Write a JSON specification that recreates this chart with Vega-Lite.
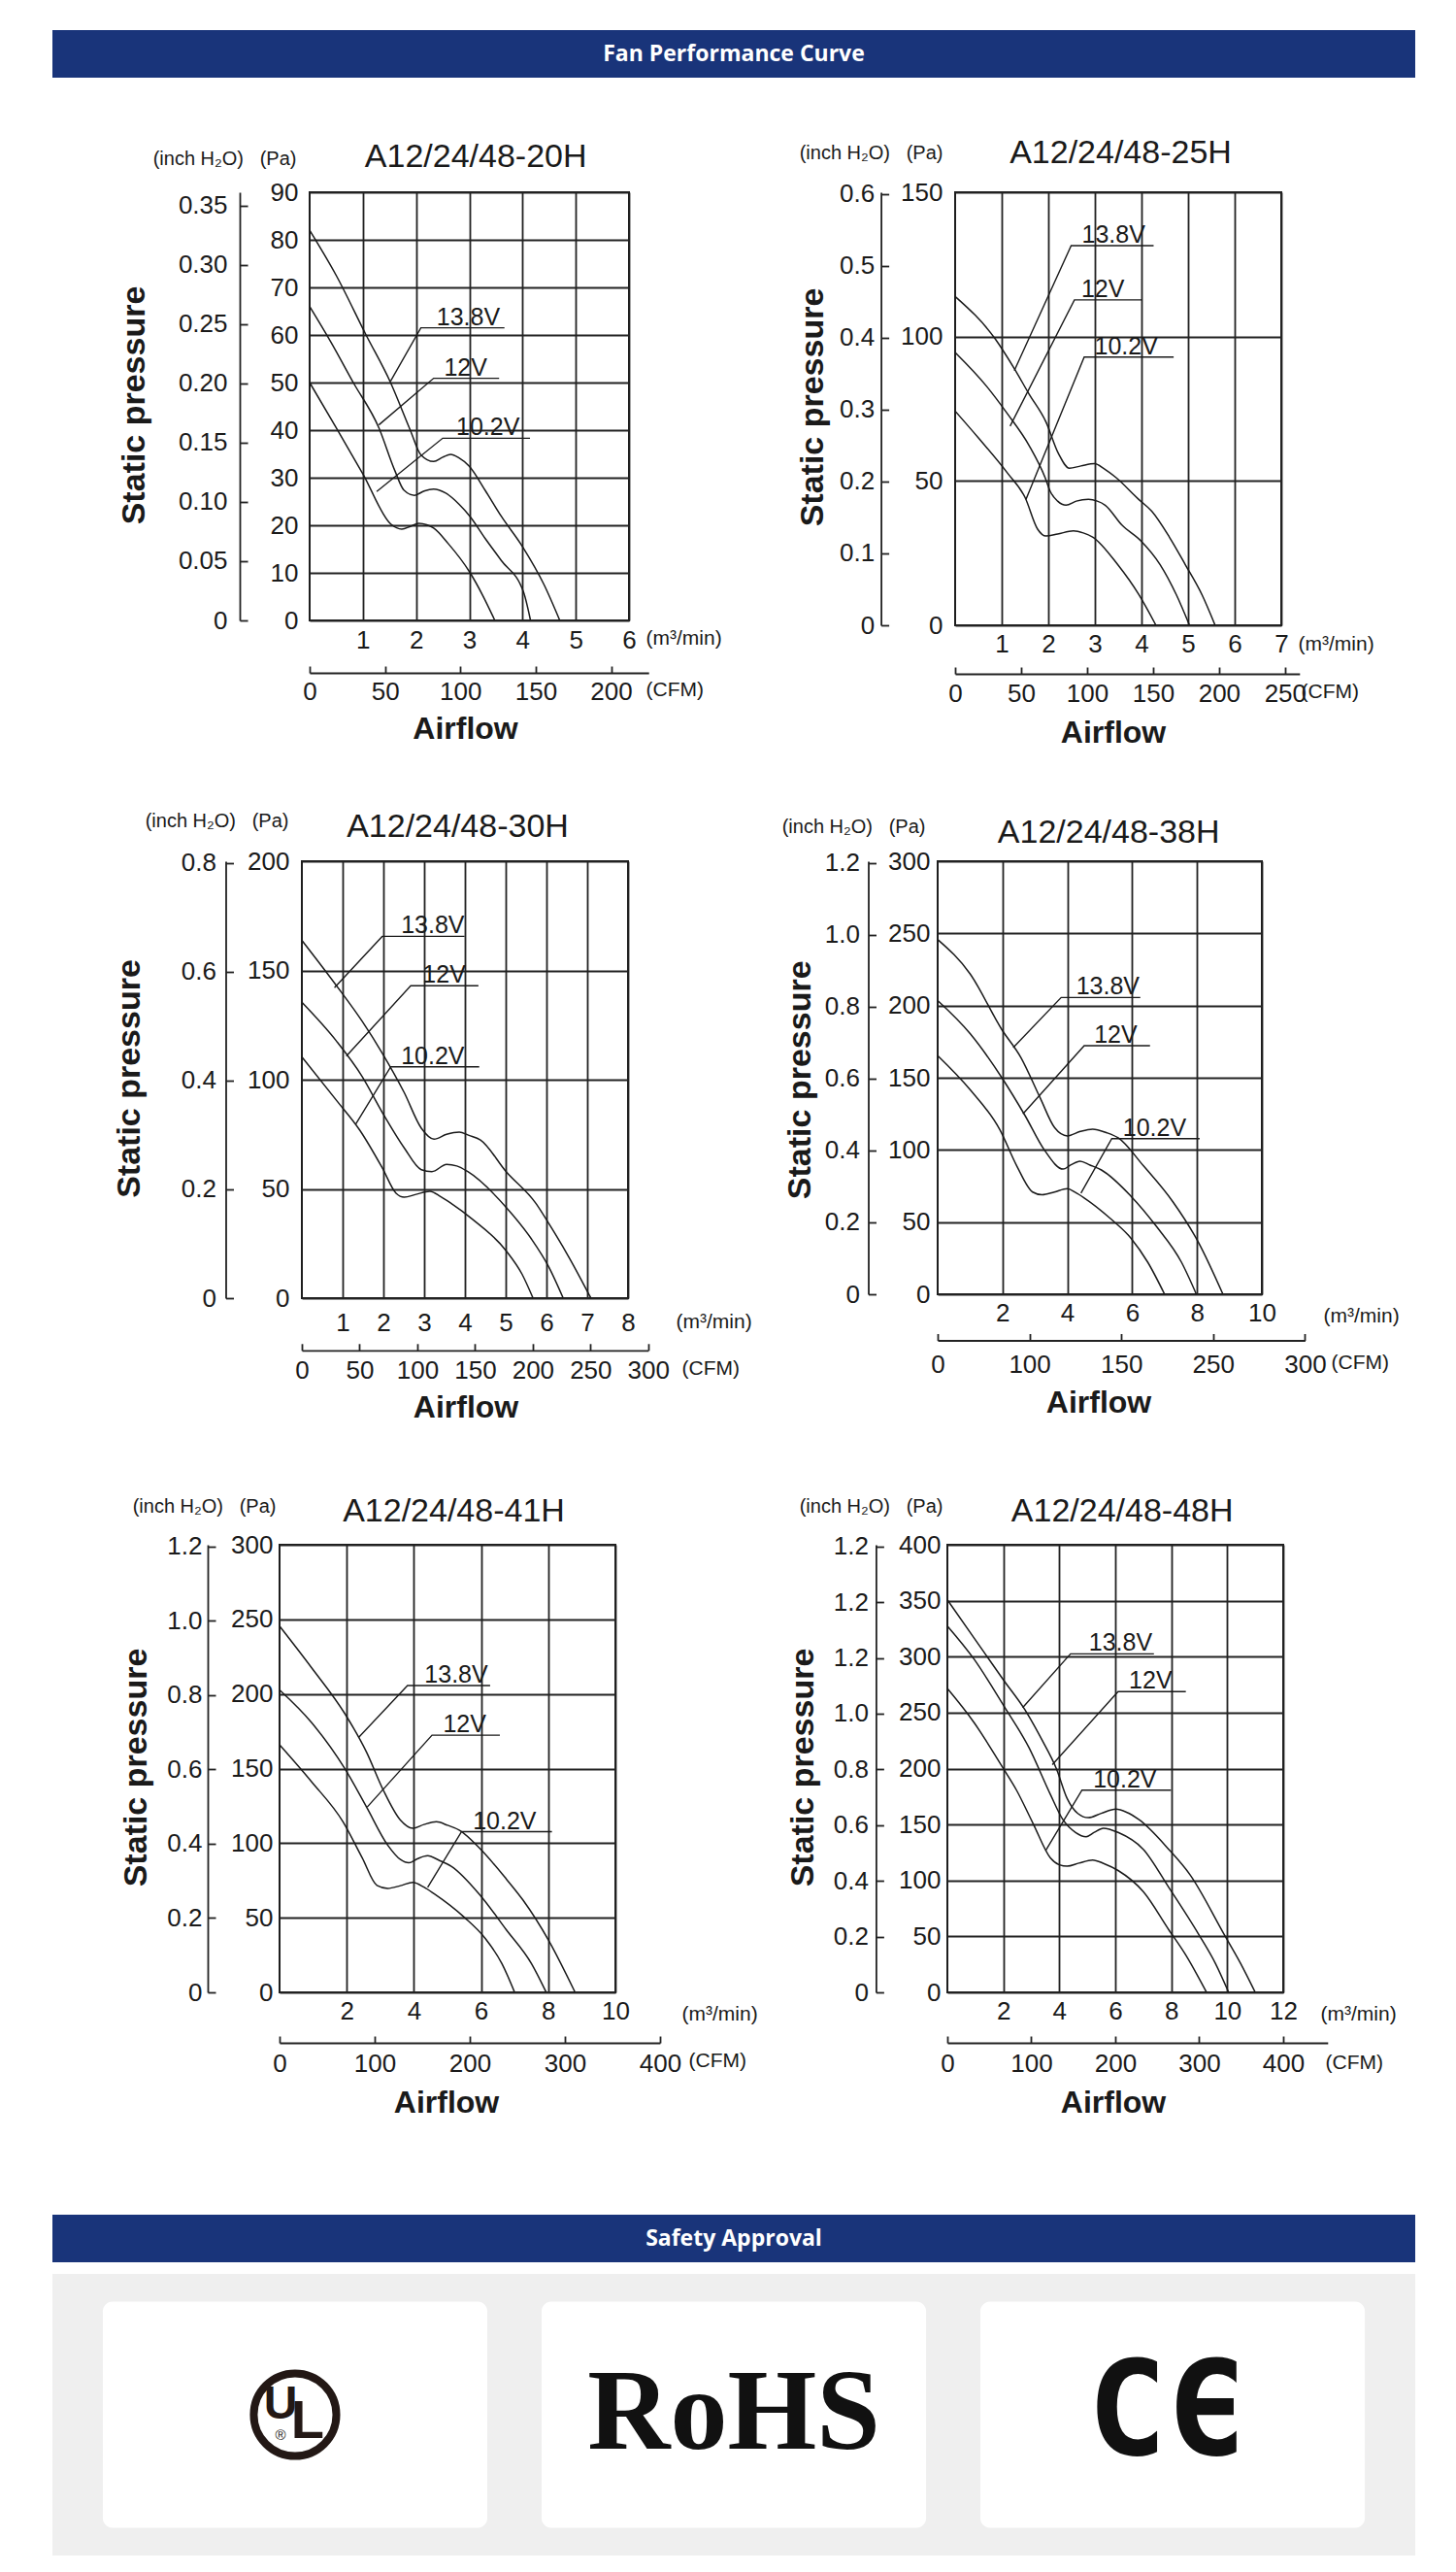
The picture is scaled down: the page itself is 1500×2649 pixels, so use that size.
{
"$schema": "https://vega.github.io/schema/vega-lite/v6.json",
"usermeta": {"embedOptions": {"actions": false}},
"background": "white",
"padding": {"left": 51, "top": 31, "right": 45, "bottom": 18},
"config": {
  "view": {"stroke": null},
  "concat": {"spacing": 0},
  "font": "Liberation Sans",
  "axis": {"labelFont": "Liberation Sans", "titleFont": "Liberation Sans", "labelColor": "#1a1a1a", "titleColor": "#1a1a1a", "labelFontSize": 26, "labelFlush": false, "labelOverlap": false, "gridColor": "#222222", "gridWidth": 1.8, "gridOpacity": 1, "domainColor": "#222222", "tickColor": "#222222", "titleFontWeight": "normal"}
},
"datasets": {
  "c20": [
    {"v":"13.8V","q":0,"p":82},{"v":"13.8V","q":0.5,"p":72.5},{"v":"13.8V","q":1.06,"p":60},{"v":"13.8V","q":1.52,"p":50},{"v":"13.8V","q":1.89,"p":40},{"v":"13.8V","q":2.09,"p":34.8},{"v":"13.8V","q":2.33,"p":33.4},{"v":"13.8V","q":2.5,"p":34.3},{"v":"13.8V","q":2.65,"p":34.9},{"v":"13.8V","q":2.8,"p":34.2},{"v":"13.8V","q":3.0,"p":32.4},{"v":"13.8V","q":3.3,"p":27.3},{"v":"13.8V","q":3.6,"p":21.9},{"v":"13.8V","q":4.0,"p":15.5},{"v":"13.8V","q":4.4,"p":7.6},{"v":"13.8V","q":4.7,"p":0},
    {"v":"12V","q":0,"p":66},{"v":"12V","q":0.4,"p":58.5},{"v":"12V","q":0.82,"p":50},{"v":"12V","q":1.3,"p":40.5},{"v":"12V","q":1.6,"p":31.5},{"v":"12V","q":1.77,"p":27.4},{"v":"12V","q":1.97,"p":26.3},{"v":"12V","q":2.15,"p":27.2},{"v":"12V","q":2.33,"p":27.6},{"v":"12V","q":2.55,"p":26.8},{"v":"12V","q":2.81,"p":24.4},{"v":"12V","q":3.01,"p":21.9},{"v":"12V","q":3.3,"p":17.2},{"v":"12V","q":3.6,"p":12.6},{"v":"12V","q":4.02,"p":5.9},{"v":"12V","q":4.15,"p":0},
    {"v":"10.2V","q":0,"p":50},{"v":"10.2V","q":0.5,"p":40.5},{"v":"10.2V","q":1.0,"p":30.8},{"v":"10.2V","q":1.53,"p":20.2},{"v":"10.2V","q":1.73,"p":19.2},{"v":"10.2V","q":1.9,"p":19.8},{"v":"10.2V","q":2.05,"p":20.4},{"v":"10.2V","q":2.2,"p":20.1},{"v":"10.2V","q":2.33,"p":19.4},{"v":"10.2V","q":2.6,"p":16.2},{"v":"10.2V","q":3.01,"p":10.1},{"v":"10.2V","q":3.25,"p":5.3},{"v":"10.2V","q":3.48,"p":0}
  ],
  "l20": [
    {"lbl":"13.8V","q":1.52,"p":50.3},{"lbl":"13.8V","q":2.09,"p":61.5},{"lbl":"13.8V","q":3.66,"p":61.5},
    {"lbl":"12V","q":1.3,"p":41.1},{"lbl":"12V","q":2.33,"p":50.9},{"lbl":"12V","q":3.56,"p":50.9},
    {"lbl":"10.2V","q":1.26,"p":27.1},{"lbl":"10.2V","q":2.5,"p":38.3},{"lbl":"10.2V","q":4.14,"p":38.3}
  ],
  "t20": [{"lbl":"13.8V","q":2.98,"p":61.5},{"lbl":"12V","q":2.93,"p":50.9},{"lbl":"10.2V","q":3.35,"p":38.3}],
  "c25": [
    {"v":"13.8V","q":0,"p":113.9},{"v":"13.8V","q":0.86,"p":99.2},{"v":"13.8V","q":1.27,"p":88.9},{"v":"13.8V","q":1.59,"p":80},{"v":"13.8V","q":1.95,"p":70.4},{"v":"13.8V","q":2.22,"p":59.4},{"v":"13.8V","q":2.45,"p":54.4},{"v":"13.8V","q":2.7,"p":55.2},{"v":"13.8V","q":2.99,"p":56},{"v":"13.8V","q":3.2,"p":54.2},{"v":"13.8V","q":3.45,"p":51.2},{"v":"13.8V","q":3.94,"p":43.6},{"v":"13.8V","q":4.22,"p":39.5},{"v":"13.8V","q":4.6,"p":30.5},{"v":"13.8V","q":4.94,"p":21},{"v":"13.8V","q":5.3,"p":10.5},{"v":"13.8V","q":5.58,"p":0},
    {"v":"12V","q":0,"p":94.5},{"v":"12V","q":0.68,"p":82.7},{"v":"12V","q":1.13,"p":73.1},{"v":"12V","q":1.59,"p":62.2},{"v":"12V","q":1.93,"p":51.2},{"v":"12V","q":2.04,"p":46.4},{"v":"12V","q":2.2,"p":43},{"v":"12V","q":2.38,"p":41.6},{"v":"12V","q":2.6,"p":43},{"v":"12V","q":2.86,"p":43.6},{"v":"12V","q":3.05,"p":43},{"v":"12V","q":3.22,"p":41.6},{"v":"12V","q":3.58,"p":34.7},{"v":"12V","q":3.99,"p":29.2},{"v":"12V","q":4.4,"p":21},{"v":"12V","q":4.75,"p":10.5},{"v":"12V","q":5.03,"p":0},
    {"v":"10.2V","q":0,"p":74.2},{"v":"10.2V","q":0.5,"p":64.9},{"v":"10.2V","q":1.13,"p":52.6},{"v":"10.2V","q":1.5,"p":44.3},{"v":"10.2V","q":1.77,"p":33.3},{"v":"10.2V","q":1.95,"p":30.9},{"v":"10.2V","q":2.2,"p":31.6},{"v":"10.2V","q":2.54,"p":32.7},{"v":"10.2V","q":2.75,"p":32},{"v":"10.2V","q":2.95,"p":30.6},{"v":"10.2V","q":3.49,"p":21},{"v":"10.2V","q":3.94,"p":10.7},{"v":"10.2V","q":4.31,"p":0}
  ],
  "l25": [
    {"lbl":"13.8V","q":1.27,"p":88.2},{"lbl":"13.8V","q":2.49,"p":131.5},{"lbl":"13.8V","q":4.26,"p":131.5},
    {"lbl":"12V","q":1.18,"p":69},{"lbl":"12V","q":2.56,"p":112.7},{"lbl":"12V","q":4.02,"p":112.7},
    {"lbl":"10.2V","q":1.52,"p":43.6},{"lbl":"10.2V","q":2.77,"p":92.9},{"lbl":"10.2V","q":4.69,"p":92.9}
  ],
  "t25": [{"lbl":"13.8V","q":3.4,"p":131.5},{"lbl":"12V","q":3.17,"p":112.7},{"lbl":"10.2V","q":3.67,"p":92.9}],
  "c30": [
    {"v":"13.8V","q":0,"p":163.8},{"v":"13.8V","q":0.85,"p":143},{"v":"13.8V","q":1.48,"p":126.7},{"v":"13.8V","q":1.97,"p":112.2},{"v":"13.8V","q":2.51,"p":94.1},{"v":"13.8V","q":2.93,"p":77.8},{"v":"13.8V","q":3.24,"p":72.8},{"v":"13.8V","q":3.55,"p":75},{"v":"13.8V","q":3.86,"p":76},{"v":"13.8V","q":4.1,"p":74.5},{"v":"13.8V","q":4.38,"p":72.4},{"v":"13.8V","q":5.01,"p":57.9},{"v":"13.8V","q":5.74,"p":43.4},{"v":"13.8V","q":6.05,"p":34.4},{"v":"13.8V","q":6.57,"p":18.1},{"v":"13.8V","q":7.09,"p":0},
    {"v":"12V","q":0,"p":135.4},{"v":"12V","q":0.85,"p":117.6},{"v":"12V","q":1.48,"p":101.4},{"v":"12V","q":1.97,"p":85.1},{"v":"12V","q":2.51,"p":68.8},{"v":"12V","q":2.93,"p":58.8},{"v":"12V","q":3.19,"p":57.9},{"v":"12V","q":3.55,"p":61.2},{"v":"12V","q":3.8,"p":60.5},{"v":"12V","q":4.07,"p":57.9},{"v":"12V","q":5.01,"p":41.6},{"v":"12V","q":5.63,"p":27.1},{"v":"12V","q":6.05,"p":14.5},{"v":"12V","q":6.41,"p":0},
    {"v":"10.2V","q":0,"p":110.4},{"v":"10.2V","q":0.85,"p":90.5},{"v":"10.2V","q":1.42,"p":76.9},{"v":"10.2V","q":1.97,"p":59.7},{"v":"10.2V","q":2.31,"p":48},{"v":"10.2V","q":2.51,"p":46.2},{"v":"10.2V","q":2.8,"p":47.5},{"v":"10.2V","q":3.14,"p":48.9},{"v":"10.2V","q":3.4,"p":46.5},{"v":"10.2V","q":3.66,"p":43.4},{"v":"10.2V","q":4.18,"p":36.2},{"v":"10.2V","q":5.01,"p":21.7},{"v":"10.2V","q":5.4,"p":11},{"v":"10.2V","q":5.67,"p":0}
  ],
  "l30": [
    {"lbl":"13.8V","q":0.8,"p":142.1},{"lbl":"13.8V","q":1.97,"p":165.6},{"lbl":"13.8V","q":3.99,"p":165.6},
    {"lbl":"12V","q":1.09,"p":110.8},{"lbl":"12V","q":2.67,"p":143},{"lbl":"12V","q":4.33,"p":143},
    {"lbl":"10.2V","q":1.32,"p":79.6},{"lbl":"10.2V","q":2.18,"p":105.9},{"lbl":"10.2V","q":4.35,"p":105.9}
  ],
  "t30": [{"lbl":"13.8V","q":3.21,"p":165.6},{"lbl":"12V","q":3.49,"p":143},{"lbl":"10.2V","q":3.21,"p":105.9}],
  "c38": [
    {"v":"13.8V","q":0,"p":245.8},{"v":"13.8V","q":1.0,"p":222},{"v":"13.8V","q":1.98,"p":183.3},{"v":"13.8V","q":2.57,"p":163.9},{"v":"13.8V","q":3.16,"p":136.1},{"v":"13.8V","q":3.61,"p":115.3},{"v":"13.8V","q":4.0,"p":109.7},{"v":"13.8V","q":4.4,"p":112.8},{"v":"13.8V","q":4.78,"p":114.4},{"v":"13.8V","q":5.2,"p":112},{"v":"13.8V","q":5.57,"p":108.3},{"v":"13.8V","q":6.35,"p":88.9},{"v":"13.8V","q":7.26,"p":63.9},{"v":"13.8V","q":8.04,"p":36.1},{"v":"13.8V","q":8.8,"p":0},
    {"v":"12V","q":0,"p":203.5},{"v":"12V","q":1.0,"p":180.6},{"v":"12V","q":1.98,"p":150},{"v":"12V","q":2.7,"p":123.6},{"v":"12V","q":3.29,"p":100},{"v":"12V","q":3.87,"p":86.7},{"v":"12V","q":4.1,"p":89.5},{"v":"12V","q":4.39,"p":92.2},{"v":"12V","q":4.7,"p":89.5},{"v":"12V","q":5.05,"p":86.1},{"v":"12V","q":5.96,"p":68},{"v":"12V","q":6.74,"p":47.2},{"v":"12V","q":7.52,"p":22.2},{"v":"12V","q":7.98,"p":0},
    {"v":"10.2V","q":0,"p":165.3},{"v":"10.2V","q":1.0,"p":141.7},{"v":"10.2V","q":1.92,"p":113.9},{"v":"10.2V","q":2.44,"p":88.9},{"v":"10.2V","q":2.93,"p":70.8},{"v":"10.2V","q":3.22,"p":68.9},{"v":"10.2V","q":3.6,"p":70.8},{"v":"10.2V","q":4.0,"p":73.1},{"v":"10.2V","q":4.25,"p":70.5},{"v":"10.2V","q":4.52,"p":66.7},{"v":"10.2V","q":5.31,"p":52.8},{"v":"10.2V","q":5.96,"p":38.9},{"v":"10.2V","q":6.48,"p":22.2},{"v":"10.2V","q":7.0,"p":0}
  ],
  "l38": [
    {"lbl":"13.8V","q":2.33,"p":170.8},{"lbl":"13.8V","q":3.81,"p":205.6},{"lbl":"13.8V","q":6.25,"p":205.6},
    {"lbl":"12V","q":2.63,"p":125},{"lbl":"12V","q":4.52,"p":172.2},{"lbl":"12V","q":6.55,"p":172.2},
    {"lbl":"10.2V","q":4.42,"p":70},{"lbl":"10.2V","q":5.37,"p":107.8},{"lbl":"10.2V","q":8.08,"p":107.8}
  ],
  "t38": [{"lbl":"13.8V","q":5.25,"p":205.6},{"lbl":"12V","q":5.49,"p":172.2},{"lbl":"10.2V","q":6.69,"p":107.8}],
  "c41": [
    {"v":"13.8V","q":0,"p":245.5},{"v":"13.8V","q":0.95,"p":217.7},{"v":"13.8V","q":1.95,"p":186.6},{"v":"13.8V","q":2.59,"p":161},{"v":"13.8V","q":3.09,"p":135.5},{"v":"13.8V","q":3.59,"p":115.7},{"v":"13.8V","q":3.97,"p":110},{"v":"13.8V","q":4.3,"p":112.5},{"v":"13.8V","q":4.67,"p":114.3},{"v":"13.8V","q":5.0,"p":112},{"v":"13.8V","q":5.36,"p":108.6},{"v":"13.8V","q":5.99,"p":95.8},{"v":"13.8V","q":6.75,"p":76},{"v":"13.8V","q":7.25,"p":61.8},{"v":"13.8V","q":8.01,"p":34.9},{"v":"13.8V","q":8.8,"p":0},
    {"v":"12V","q":0,"p":202.7},{"v":"12V","q":0.95,"p":180.9},{"v":"12V","q":1.95,"p":149.7},{"v":"12V","q":2.59,"p":124.2},{"v":"12V","q":3.22,"p":98.7},{"v":"12V","q":3.6,"p":89},{"v":"12V","q":3.85,"p":86.8},{"v":"12V","q":4.1,"p":89.5},{"v":"12V","q":4.41,"p":91.6},{"v":"12V","q":4.75,"p":88.5},{"v":"12V","q":5.11,"p":84.5},{"v":"12V","q":5.99,"p":64.6},{"v":"12V","q":6.75,"p":42},{"v":"12V","q":7.5,"p":19.3},{"v":"12V","q":7.94,"p":0},
    {"v":"10.2V","q":0,"p":165.9},{"v":"10.2V","q":0.95,"p":141.2},{"v":"10.2V","q":1.89,"p":114.3},{"v":"10.2V","q":2.46,"p":90.2},{"v":"10.2V","q":2.9,"p":71.7},{"v":"10.2V","q":3.22,"p":69.7},{"v":"10.2V","q":3.6,"p":71.5},{"v":"10.2V","q":3.97,"p":73.7},{"v":"10.2V","q":4.3,"p":70.5},{"v":"10.2V","q":4.6,"p":66.1},{"v":"10.2V","q":5.49,"p":50.5},{"v":"10.2V","q":6.12,"p":36.3},{"v":"10.2V","q":6.62,"p":19.3},{"v":"10.2V","q":7.0,"p":0}
  ],
  "l41": [
    {"lbl":"13.8V","q":2.36,"p":171},{"lbl":"13.8V","q":3.81,"p":205.6},{"lbl":"13.8V","q":6.27,"p":205.6},
    {"lbl":"12V","q":2.61,"p":124.2},{"lbl":"12V","q":4.54,"p":172.4},{"lbl":"12V","q":6.56,"p":172.4},
    {"lbl":"10.2V","q":4.41,"p":70.3},{"lbl":"10.2V","q":5.42,"p":107.7},{"lbl":"10.2V","q":8.11,"p":107.7}
  ],
  "t41": [{"lbl":"13.8V","q":5.26,"p":205.6},{"lbl":"12V","q":5.51,"p":172.4},{"lbl":"10.2V","q":6.7,"p":107.7}],
  "c48": [
    {"v":"13.8V","q":0,"p":350.8},{"v":"13.8V","q":0.95,"p":316.8},{"v":"13.8V","q":2.01,"p":279},{"v":"13.8V","q":2.77,"p":252.6},{"v":"13.8V","q":3.37,"p":226.1},{"v":"13.8V","q":3.9,"p":199.6},{"v":"13.8V","q":4.28,"p":173.2},{"v":"13.8V","q":4.66,"p":159.9},{"v":"13.8V","q":5.04,"p":156.1},{"v":"13.8V","q":5.5,"p":160},{"v":"13.8V","q":6.02,"p":163.7},{"v":"13.8V","q":6.4,"p":161},{"v":"13.8V","q":6.85,"p":154.3},{"v":"13.8V","q":7.91,"p":127.8},{"v":"13.8V","q":8.67,"p":105.1},{"v":"13.8V","q":9.88,"p":52.2},{"v":"13.8V","q":10.48,"p":25.7},{"v":"13.8V","q":11.0,"p":0},
    {"v":"12V","q":0,"p":327.4},{"v":"12V","q":0.95,"p":297.9},{"v":"12V","q":2.01,"p":256.3},{"v":"12V","q":2.92,"p":218.5},{"v":"12V","q":3.68,"p":176.9},{"v":"12V","q":4.13,"p":154.3},{"v":"12V","q":4.58,"p":142.9},{"v":"12V","q":4.96,"p":139.1},{"v":"12V","q":5.25,"p":143},{"v":"12V","q":5.57,"p":146.7},{"v":"12V","q":6.1,"p":142.9},{"v":"12V","q":7.0,"p":127.8},{"v":"12V","q":7.91,"p":93.8},{"v":"12V","q":8.97,"p":52.2},{"v":"12V","q":9.58,"p":25.7},{"v":"12V","q":10.05,"p":0},
    {"v":"10.2V","q":0,"p":271.5},{"v":"10.2V","q":0.95,"p":241.2},{"v":"10.2V","q":2.01,"p":199.6},{"v":"10.2V","q":2.47,"p":180.7},{"v":"10.2V","q":3.07,"p":150.5},{"v":"10.2V","q":3.68,"p":120.2},{"v":"10.2V","q":4.0,"p":114},{"v":"10.2V","q":4.28,"p":112.7},{"v":"10.2V","q":4.7,"p":115.5},{"v":"10.2V","q":5.19,"p":118.3},{"v":"10.2V","q":5.6,"p":115},{"v":"10.2V","q":6.1,"p":108.9},{"v":"10.2V","q":7.0,"p":90},{"v":"10.2V","q":7.91,"p":56},{"v":"10.2V","q":8.52,"p":33.3},{"v":"10.2V","q":9.26,"p":0}
  ],
  "l48": [
    {"lbl":"13.8V","q":2.69,"p":254.4},{"lbl":"13.8V","q":4.4,"p":302.5},{"lbl":"13.8V","q":7.38,"p":302.5},
    {"lbl":"12V","q":3.75,"p":203.4},{"lbl":"12V","q":6.1,"p":268.8},{"lbl":"12V","q":8.52,"p":268.8},
    {"lbl":"10.2V","q":3.52,"p":127},{"lbl":"10.2V","q":4.81,"p":180.7},{"lbl":"10.2V","q":7.99,"p":180.7}
  ],
  "t48": [{"lbl":"13.8V","q":6.19,"p":302.5},{"lbl":"12V","q":7.26,"p":268.8},{"lbl":"10.2V","q":6.34,"p":180.7}],
  "certs": [{"cert":"UL","row":"r"},{"cert":"RoHS","row":"r"},{"cert":"CE","row":"r"}]
},
"bounds": "flush",
"spacing": 0,
"vconcat": [
  {"width": 1404, "height": 49, "view": {"fill": "#19347a", "stroke": null},
   "data": {"values": [{"t": "Fan Performance Curve"}]},
   "mark": {"type": "text", "color": "#ffffff", "font": "Open Sans", "fontWeight": "bold", "fontSize": 23, "baseline": "middle"},
   "encoding": {"text": {"field": "t"}}},
  {"width": 1, "height": 118, "data": {"values": [{}]}, "mark": {"type": "point", "opacity": 0}},
  {"bounds": "flush", "spacing": 0, "hconcat": [
    {"width": 265, "height": 1, "data": {"values": [{}]}, "mark": {"type": "point", "opacity": 0}},
    {"width": 329, "height": 441, "view": {"stroke": "#1e1e1e", "strokeWidth": 2},
     "title": {"text": "Airflow", "orient": "bottom", "anchor": "middle", "frame": "group", "offset": 10, "dx": -4, "baseline": "top", "fontSize": 32, "fontWeight": "bold", "font": "Liberation Sans", "color": "#1a1a1a"},
     "layer": [
       {"encoding": {
          "x": {"field": "q", "type": "quantitative", "scale": {"domain": [0, 6], "nice": false, "zero": false},
                "axis": {"orient": "bottom", "values": [1,2,3,4,5,6], "grid": true, "ticks": false, "tickSize": 0, "domain": false, "labelPadding": 20, "labelBaseline": "middle", "title": "(m³/min)", "titleX": 346, "titleY": 18, "titleAlign": "left", "titleBaseline": "middle", "titleFontSize": 21}},
          "y": {"field": "p", "type": "quantitative", "scale": {"domain": [0, 90], "nice": false, "zero": false},
                "axis": {"orient": "left", "values": [0,10,20,30,40,50,60,70,80,90], "grid": true, "ticks": false, "tickSize": 0, "domain": false, "labelPadding": 12, "title": "(inch H₂O)\u00a0\u00a0\u00a0(Pa)", "titleAngle": 0, "titleX": -14, "titleY": -35, "titleAlign": "right", "titleBaseline": "middle", "titleFontSize": 20}}},
        "layer": [
          {"data": {"name": "c20"}, "mark": {"type": "line", "interpolate": "monotone", "stroke": "#1a1a1a", "strokeWidth": 1.5}, "encoding": {"detail": {"field": "v"}}},
          {"data": {"name": "l20"}, "mark": {"type": "line", "stroke": "#1a1a1a", "strokeWidth": 1.4}, "encoding": {"detail": {"field": "lbl"}}},
          {"data": {"name": "t20"}, "mark": {"type": "text", "align": "center", "baseline": "alphabetic", "dy": -3, "fontSize": 25, "font": "Liberation Sans", "color": "#1a1a1a"}, "encoding": {"text": {"field": "lbl"}}}
        ]},
       {"data": {"values": [{"c": 0, "i": 0}]}, "mark": {"type": "point", "opacity": 0},
        "encoding": {
          "x": {"field": "c", "type": "quantitative", "scale": {"domain": [0, 224.9], "range": [0, 349.2], "nice": false, "zero": false},
                "axis": {"orient": "bottom", "offset": 54, "values": [0,50,100,150,200], "grid": false, "tickSize": -7, "tickWidth": 1.8, "domainWidth": 1.8, "labelPadding": 26.7, "labelBaseline": "middle", "title": "(CFM)", "titleX": 346, "titleY": 17.6, "titleAlign": "left", "titleBaseline": "middle", "titleFontSize": 21}},
          "y": {"field": "i", "type": "quantitative", "scale": {"domain": [0, 0.3613], "nice": false, "zero": false},
                "axis": {"orient": "left", "offset": 72, "values": [0,0.05,0.1,0.15,0.2,0.25,0.3,0.35], "grid": false, "tickSize": -8, "tickWidth": 1.8, "domainWidth": 1.8, "labelPadding": 21, "labelExpr": "datum.value == 0 ? '0' : format(datum.value, '.2f')", "title": "Static pressure", "titleX": -109, "titleY": 219, "titleAngle": -90, "titleAlign": "center", "titleBaseline": "middle", "titleFontSize": 34, "titleFontWeight": "bold"}}}},
       {"data": {"values": [{"t": 0}]}, "mark": {"type": "point", "opacity": 0},
        "encoding": {"x": {"field": "t", "type": "quantitative", "scale": {"domain": [0, 1]},
          "axis": {"orient": "top", "grid": false, "domain": false, "ticks": false, "labels": false, "title": "A12/24/48-20H", "titleX": 170.7, "titleY": -37, "titleAlign": "center", "titleBaseline": "middle", "titleFontSize": 34}}}}
     ],
     "resolve": {"scale": {"x": "independent", "y": "independent"}, "axis": {"x": "independent", "y": "independent"}}},
    {"width": 336, "height": 1, "data": {"values": [{}]}, "mark": {"type": "point", "opacity": 0}},
    {"width": 336, "height": 446, "view": {"stroke": "#1e1e1e", "strokeWidth": 2},
     "title": {"text": "Airflow", "orient": "bottom", "anchor": "middle", "frame": "group", "offset": 12, "dx": -5, "baseline": "top", "fontSize": 32, "fontWeight": "bold", "font": "Liberation Sans", "color": "#1a1a1a"},
     "layer": [
       {"encoding": {
          "x": {"field": "q", "type": "quantitative", "scale": {"domain": [0, 7], "nice": false, "zero": false},
                "axis": {"orient": "bottom", "values": [1,2,3,4,5,6,7], "grid": true, "ticks": false, "tickSize": 0, "domain": false, "labelPadding": 19, "labelBaseline": "middle", "title": "(m³/min)", "titleX": 353, "titleY": 19, "titleAlign": "left", "titleBaseline": "middle", "titleFontSize": 21}},
          "y": {"field": "p", "type": "quantitative", "scale": {"domain": [0, 150], "nice": false, "zero": false},
                "axis": {"orient": "left", "values": [0,50,100,150], "grid": true, "ticks": false, "tickSize": 0, "domain": false, "labelPadding": 13, "title": "(inch H₂O)\u00a0\u00a0\u00a0(Pa)", "titleAngle": 0, "titleX": -13, "titleY": -41, "titleAlign": "right", "titleBaseline": "middle", "titleFontSize": 20}}},
        "layer": [
          {"data": {"name": "c25"}, "mark": {"type": "line", "interpolate": "monotone", "stroke": "#1a1a1a", "strokeWidth": 1.5}, "encoding": {"detail": {"field": "v"}}},
          {"data": {"name": "l25"}, "mark": {"type": "line", "stroke": "#1a1a1a", "strokeWidth": 1.4}, "encoding": {"detail": {"field": "lbl"}}},
          {"data": {"name": "t25"}, "mark": {"type": "text", "align": "center", "baseline": "alphabetic", "dy": -3, "fontSize": 25, "font": "Liberation Sans", "color": "#1a1a1a"}, "encoding": {"text": {"field": "lbl"}}}
        ]},
       {"data": {"values": [{"c": 0, "i": 0}]}, "mark": {"type": "point", "opacity": 0},
        "encoding": {
          "x": {"field": "c", "type": "quantitative", "scale": {"domain": [0, 261], "range": [0, 354.8], "nice": false, "zero": false},
                "axis": {"orient": "bottom", "offset": 50, "values": [0,50,100,150,200,250], "grid": false, "tickSize": -7, "tickWidth": 1.8, "domainWidth": 1.8, "labelPadding": 27.5, "labelBaseline": "middle", "title": "(CFM)", "titleX": 356, "titleY": 18.5, "titleAlign": "left", "titleBaseline": "middle", "titleFontSize": 21}},
          "y": {"field": "i", "type": "quantitative", "scale": {"domain": [0, 0.6022], "nice": false, "zero": false},
                "axis": {"orient": "left", "offset": 76.4, "values": [0,0.1,0.2,0.3,0.4,0.5,0.6], "grid": false, "tickSize": -8, "tickWidth": 1.8, "domainWidth": 1.8, "labelPadding": 15, "labelExpr": "datum.value == 0 ? '0' : format(datum.value, '.1f')", "title": "Static pressure", "titleX": -70, "titleY": 221, "titleAngle": -90, "titleAlign": "center", "titleBaseline": "middle", "titleFontSize": 34, "titleFontWeight": "bold"}}}},
       {"data": {"values": [{"t": 0}]}, "mark": {"type": "point", "opacity": 0},
        "encoding": {"x": {"field": "t", "type": "quantitative", "scale": {"domain": [0, 1]},
          "axis": {"orient": "top", "grid": false, "domain": false, "ticks": false, "labels": false, "title": "A12/24/48-25H", "titleX": 170, "titleY": -41, "titleAlign": "center", "titleBaseline": "middle", "titleFontSize": 34}}}}
     ],
     "resolve": {"scale": {"x": "independent", "y": "independent"}, "axis": {"x": "independent", "y": "independent"}}}
  ]},
  {"width": 1, "height": 688.5, "data": {"values": [{}]}, "mark": {"type": "point", "opacity": 0}},
  {"bounds": "flush", "spacing": 0, "hconcat": [
    {"width": 257, "height": 1, "data": {"values": [{}]}, "mark": {"type": "point", "opacity": 0}},
    {"width": 336, "height": 450, "view": {"stroke": "#1e1e1e", "strokeWidth": 2},
     "title": {"text": "Airflow", "orient": "bottom", "anchor": "middle", "frame": "group", "offset": 11, "dx": 1, "baseline": "top", "fontSize": 32, "fontWeight": "bold", "font": "Liberation Sans", "color": "#1a1a1a"},
     "layer": [
       {"encoding": {
          "x": {"field": "q", "type": "quantitative", "scale": {"domain": [0, 8], "nice": false, "zero": false},
                "axis": {"orient": "bottom", "values": [1,2,3,4,5,6,7,8], "grid": true, "ticks": false, "tickSize": 0, "domain": false, "labelPadding": 25, "labelBaseline": "middle", "title": "(m³/min)", "titleX": 385, "titleY": 24, "titleAlign": "left", "titleBaseline": "middle", "titleFontSize": 21}},
          "y": {"field": "p", "type": "quantitative", "scale": {"domain": [0, 200], "nice": false, "zero": false},
                "axis": {"orient": "left", "values": [0,50,100,150,200], "grid": true, "ticks": false, "tickSize": 0, "domain": false, "labelPadding": 13, "title": "(inch H₂O)\u00a0\u00a0\u00a0(Pa)", "titleAngle": 0, "titleX": -14, "titleY": -42, "titleAlign": "right", "titleBaseline": "middle", "titleFontSize": 20}}},
        "layer": [
          {"data": {"name": "c30"}, "mark": {"type": "line", "interpolate": "monotone", "stroke": "#1a1a1a", "strokeWidth": 1.5}, "encoding": {"detail": {"field": "v"}}},
          {"data": {"name": "l30"}, "mark": {"type": "line", "stroke": "#1a1a1a", "strokeWidth": 1.4}, "encoding": {"detail": {"field": "lbl"}}},
          {"data": {"name": "t30"}, "mark": {"type": "text", "align": "center", "baseline": "alphabetic", "dy": -3, "fontSize": 25, "font": "Liberation Sans", "color": "#1a1a1a"}, "encoding": {"text": {"field": "lbl"}}}
        ]},
       {"data": {"values": [{"c": 0, "i": 0}]}, "mark": {"type": "point", "opacity": 0},
        "encoding": {
          "x": {"field": "c", "type": "quantitative", "scale": {"domain": [0, 300], "range": [0, 356.8], "nice": false, "zero": false},
                "axis": {"orient": "bottom", "offset": 53.8, "values": [0,50,100,150,200,250,300], "grid": false, "tickSize": -7, "tickWidth": 1.8, "domainWidth": 1.8, "labelPadding": 27.5, "labelBaseline": "middle", "title": "(CFM)", "titleX": 391, "titleY": 18.4, "titleAlign": "left", "titleBaseline": "middle", "titleFontSize": 21}},
          "y": {"field": "i", "type": "quantitative", "scale": {"domain": [0, 0.8029], "nice": false, "zero": false},
                "axis": {"orient": "left", "offset": 78.5, "values": [0,0.2,0.4,0.6,0.8], "grid": false, "tickSize": -8, "tickWidth": 1.8, "domainWidth": 1.8, "labelPadding": 18, "labelExpr": "datum.value == 0 ? '0' : format(datum.value, '.1f')", "title": "Static pressure", "titleX": -99, "titleY": 223.5, "titleAngle": -90, "titleAlign": "center", "titleBaseline": "middle", "titleFontSize": 34, "titleFontWeight": "bold"}}}},
       {"data": {"values": [{"t": 0}]}, "mark": {"type": "point", "opacity": 0},
        "encoding": {"x": {"field": "t", "type": "quantitative", "scale": {"domain": [0, 1]},
          "axis": {"orient": "top", "grid": false, "domain": false, "ticks": false, "labels": false, "title": "A12/24/48-30H", "titleX": 160, "titleY": -35.7, "titleAlign": "center", "titleBaseline": "middle", "titleFontSize": 34}}}}
     ],
     "resolve": {"scale": {"x": "independent", "y": "independent"}, "axis": {"x": "independent", "y": "independent"}}},
    {"width": 319, "height": 1, "data": {"values": [{}]}, "mark": {"type": "point", "opacity": 0}},
    {"width": 334, "height": 446, "view": {"stroke": "#1e1e1e", "strokeWidth": 2},
     "title": {"text": "Airflow", "orient": "bottom", "anchor": "middle", "frame": "group", "offset": 12, "dx": -1, "baseline": "top", "fontSize": 32, "fontWeight": "bold", "font": "Liberation Sans", "color": "#1a1a1a"},
     "layer": [
       {"encoding": {
          "x": {"field": "q", "type": "quantitative", "scale": {"domain": [0, 10], "nice": false, "zero": false},
                "axis": {"orient": "bottom", "values": [2,4,6,8,10], "grid": true, "ticks": false, "tickSize": 0, "domain": false, "labelPadding": 19.6, "labelBaseline": "middle", "title": "(m³/min)", "titleX": 397, "titleY": 22.9, "titleAlign": "left", "titleBaseline": "middle", "titleFontSize": 21}},
          "y": {"field": "p", "type": "quantitative", "scale": {"domain": [0, 300], "nice": false, "zero": false},
                "axis": {"orient": "left", "values": [0,50,100,150,200,250,300], "grid": true, "ticks": false, "tickSize": 0, "domain": false, "labelPadding": 8, "title": "(inch H₂O)\u00a0\u00a0\u00a0(Pa)", "titleAngle": 0, "titleX": -13, "titleY": -35.7, "titleAlign": "right", "titleBaseline": "middle", "titleFontSize": 20}}},
        "layer": [
          {"data": {"name": "c38"}, "mark": {"type": "line", "interpolate": "monotone", "stroke": "#1a1a1a", "strokeWidth": 1.5}, "encoding": {"detail": {"field": "v"}}},
          {"data": {"name": "l38"}, "mark": {"type": "line", "stroke": "#1a1a1a", "strokeWidth": 1.4}, "encoding": {"detail": {"field": "lbl"}}},
          {"data": {"name": "t38"}, "mark": {"type": "text", "align": "center", "baseline": "alphabetic", "dy": -3, "fontSize": 25, "font": "Liberation Sans", "color": "#1a1a1a"}, "encoding": {"text": {"field": "lbl"}}}
        ]},
       {"data": {"values": [{"c": 0, "i": 0}]}, "mark": {"type": "point", "opacity": 0},
        "encoding": {
          "x": {"field": "c", "type": "quantitative", "scale": {"domain": [0, 400], "range": [0, 378.4], "nice": false, "zero": false},
                "axis": {"orient": "bottom", "offset": 47.5, "values": [0,100,200,300,400], "grid": false, "tickSize": -7, "tickWidth": 1.8, "domainWidth": 1.8, "labelPadding": 31.6, "labelBaseline": "middle", "labelExpr": "datum.value == 200 ? '150' : datum.value == 300 ? '250' : datum.value == 400 ? '300' : datum.label", "title": "(CFM)", "titleX": 405, "titleY": 22.6, "titleAlign": "left", "titleBaseline": "middle", "titleFontSize": 21}},
          "y": {"field": "i", "type": "quantitative", "scale": {"domain": [0, 1.2044], "nice": false, "zero": false},
                "axis": {"orient": "left", "offset": 71.5, "values": [0,0.2,0.4,0.6,0.8,1.0,1.2], "grid": false, "tickSize": -8, "tickWidth": 1.8, "domainWidth": 1.8, "labelPadding": 17, "labelExpr": "datum.value == 0 ? '0' : format(datum.value, '.1f')", "title": "Static pressure", "titleX": -70.5, "titleY": 224.8, "titleAngle": -90, "titleAlign": "center", "titleBaseline": "middle", "titleFontSize": 34, "titleFontWeight": "bold"}}}},
       {"data": {"values": [{"t": 0}]}, "mark": {"type": "point", "opacity": 0},
        "encoding": {"x": {"field": "t", "type": "quantitative", "scale": {"domain": [0, 1]},
          "axis": {"orient": "top", "grid": false, "domain": false, "ticks": false, "labels": false, "title": "A12/24/48-38H", "titleX": 175.7, "titleY": -29.6, "titleAlign": "center", "titleBaseline": "middle", "titleFontSize": 34}}}}
     ],
     "resolve": {"scale": {"x": "independent", "y": "independent"}, "axis": {"x": "independent", "y": "independent"}}}
  ]},
  {"width": 1, "height": 703.5, "data": {"values": [{}]}, "mark": {"type": "point", "opacity": 0}},
  {"bounds": "flush", "spacing": 0, "hconcat": [
    {"width": 234, "height": 1, "data": {"values": [{}]}, "mark": {"type": "point", "opacity": 0}},
    {"width": 346, "height": 461, "view": {"stroke": "#1e1e1e", "strokeWidth": 2},
     "title": {"text": "Airflow", "orient": "bottom", "anchor": "middle", "frame": "group", "offset": 13, "dx": -1, "baseline": "top", "fontSize": 32, "fontWeight": "bold", "font": "Liberation Sans", "color": "#1a1a1a"},
     "layer": [
       {"encoding": {
          "x": {"field": "q", "type": "quantitative", "scale": {"domain": [0, 10], "nice": false, "zero": false},
                "axis": {"orient": "bottom", "values": [2,4,6,8,10], "grid": true, "ticks": false, "tickSize": 0, "domain": false, "labelPadding": 19, "labelBaseline": "middle", "title": "(m³/min)", "titleX": 414, "titleY": 22, "titleAlign": "left", "titleBaseline": "middle", "titleFontSize": 21}},
          "y": {"field": "p", "type": "quantitative", "scale": {"domain": [0, 300], "nice": false, "zero": false},
                "axis": {"orient": "left", "values": [0,50,100,150,200,250,300], "grid": true, "ticks": false, "tickSize": 0, "domain": false, "labelPadding": 7, "title": "(inch H₂O)\u00a0\u00a0\u00a0(Pa)", "titleAngle": 0, "titleX": -4, "titleY": -39.5, "titleAlign": "right", "titleBaseline": "middle", "titleFontSize": 20}}},
        "layer": [
          {"data": {"name": "c41"}, "mark": {"type": "line", "interpolate": "monotone", "stroke": "#1a1a1a", "strokeWidth": 1.5}, "encoding": {"detail": {"field": "v"}}},
          {"data": {"name": "l41"}, "mark": {"type": "line", "stroke": "#1a1a1a", "strokeWidth": 1.4}, "encoding": {"detail": {"field": "lbl"}}},
          {"data": {"name": "t41"}, "mark": {"type": "text", "align": "center", "baseline": "alphabetic", "dy": -3, "fontSize": 25, "font": "Liberation Sans", "color": "#1a1a1a"}, "encoding": {"text": {"field": "lbl"}}}
        ]},
       {"data": {"values": [{"c": 0, "i": 0}]}, "mark": {"type": "point", "opacity": 0},
        "encoding": {
          "x": {"field": "c", "type": "quantitative", "scale": {"domain": [0, 400], "range": [0, 391.9], "nice": false, "zero": false},
                "axis": {"orient": "bottom", "offset": 52, "values": [0,100,200,300,400], "grid": false, "tickSize": -7, "tickWidth": 1.8, "domainWidth": 1.8, "labelPadding": 28, "labelBaseline": "middle", "title": "(CFM)", "titleX": 421, "titleY": 18.6, "titleAlign": "left", "titleBaseline": "middle", "titleFontSize": 21}},
          "y": {"field": "i", "type": "quantitative", "scale": {"domain": [0, 1.2044], "nice": false, "zero": false},
                "axis": {"orient": "left", "offset": 74, "values": [0,0.2,0.4,0.6,0.8,1.0,1.2], "grid": false, "tickSize": -8, "tickWidth": 1.8, "domainWidth": 1.8, "labelPadding": 14, "labelExpr": "datum.value == 0 ? '0' : format(datum.value, '.1f')", "title": "Static pressure", "titleX": -74, "titleY": 229, "titleAngle": -90, "titleAlign": "center", "titleBaseline": "middle", "titleFontSize": 34, "titleFontWeight": "bold"}}}},
       {"data": {"values": [{"t": 0}]}, "mark": {"type": "point", "opacity": 0},
        "encoding": {"x": {"field": "t", "type": "quantitative", "scale": {"domain": [0, 1]},
          "axis": {"orient": "top", "grid": false, "domain": false, "ticks": false, "labels": false, "title": "A12/24/48-41H", "titleX": 179, "titleY": -35, "titleAlign": "center", "titleBaseline": "middle", "titleFontSize": 34}}}}
     ],
     "resolve": {"scale": {"x": "independent", "y": "independent"}, "axis": {"x": "independent", "y": "independent"}}},
    {"width": 342, "height": 1, "data": {"values": [{}]}, "mark": {"type": "point", "opacity": 0}},
    {"width": 346, "height": 461, "view": {"stroke": "#1e1e1e", "strokeWidth": 2},
     "title": {"text": "Airflow", "orient": "bottom", "anchor": "middle", "frame": "group", "offset": 13, "dx": -2, "baseline": "top", "fontSize": 32, "fontWeight": "bold", "font": "Liberation Sans", "color": "#1a1a1a"},
     "layer": [
       {"encoding": {
          "x": {"field": "q", "type": "quantitative", "scale": {"domain": [0, 12], "nice": false, "zero": false},
                "axis": {"orient": "bottom", "values": [2,4,6,8,10,12], "grid": true, "ticks": false, "tickSize": 0, "domain": false, "labelPadding": 19, "labelBaseline": "middle", "title": "(m³/min)", "titleX": 384, "titleY": 22.6, "titleAlign": "left", "titleBaseline": "middle", "titleFontSize": 21}},
          "y": {"field": "p", "type": "quantitative", "scale": {"domain": [0, 400], "nice": false, "zero": false},
                "axis": {"orient": "left", "values": [0,50,100,150,200,250,300,350,400], "grid": true, "ticks": false, "tickSize": 0, "domain": false, "labelPadding": 7, "title": "(inch H₂O)\u00a0\u00a0\u00a0(Pa)", "titleAngle": 0, "titleX": -5, "titleY": -39.5, "titleAlign": "right", "titleBaseline": "middle", "titleFontSize": 20}}},
        "layer": [
          {"data": {"name": "c48"}, "mark": {"type": "line", "interpolate": "monotone", "stroke": "#1a1a1a", "strokeWidth": 1.5}, "encoding": {"detail": {"field": "v"}}},
          {"data": {"name": "l48"}, "mark": {"type": "line", "stroke": "#1a1a1a", "strokeWidth": 1.4}, "encoding": {"detail": {"field": "lbl"}}},
          {"data": {"name": "t48"}, "mark": {"type": "text", "align": "center", "baseline": "alphabetic", "dy": -3, "fontSize": 25, "font": "Liberation Sans", "color": "#1a1a1a"}, "encoding": {"text": {"field": "lbl"}}}
        ]},
       {"data": {"values": [{"c": 0, "i": 0}]}, "mark": {"type": "point", "opacity": 0},
        "encoding": {
          "x": {"field": "c", "type": "quantitative", "scale": {"domain": [0, 453], "range": [0, 391.8], "nice": false, "zero": false},
                "axis": {"orient": "bottom", "offset": 52, "values": [0,100,200,300,400], "grid": false, "tickSize": -7, "tickWidth": 1.8, "domainWidth": 1.8, "labelPadding": 28, "labelBaseline": "middle", "title": "(CFM)", "titleX": 389, "titleY": 20.7, "titleAlign": "left", "titleBaseline": "middle", "titleFontSize": 21}},
          "y": {"field": "i", "type": "quantitative", "scale": {"domain": [0, 1.6059], "nice": false, "zero": false},
                "axis": {"orient": "left", "offset": 73.6, "values": [0,0.2,0.4,0.6,0.8,1.0,1.2,1.4,1.6], "grid": false, "tickSize": -8, "tickWidth": 1.8, "domainWidth": 1.8, "labelPadding": 16, "labelExpr": "datum.value == 0 ? '0' : format(min(datum.value, 1.2), '.1f')", "title": "Static pressure", "titleX": -75.4, "titleY": 229, "titleAngle": -90, "titleAlign": "center", "titleBaseline": "middle", "titleFontSize": 34, "titleFontWeight": "bold"}}}},
       {"data": {"values": [{"t": 0}]}, "mark": {"type": "point", "opacity": 0},
        "encoding": {"x": {"field": "t", "type": "quantitative", "scale": {"domain": [0, 1]},
          "axis": {"orient": "top", "grid": false, "domain": false, "ticks": false, "labels": false, "title": "A12/24/48-48H", "titleX": 179.7, "titleY": -35, "titleAlign": "center", "titleBaseline": "middle", "titleFontSize": 34}}}}
     ],
     "resolve": {"scale": {"x": "independent", "y": "independent"}, "axis": {"x": "independent", "y": "independent"}}}
  ]},
  {"width": 1, "height": 690, "data": {"values": [{}]}, "mark": {"type": "point", "opacity": 0}},
  {"width": 1404, "height": 49, "view": {"fill": "#19347a", "stroke": null},
   "data": {"values": [{"t": "Safety Approval"}]},
   "mark": {"type": "text", "color": "#ffffff", "font": "Open Sans", "fontWeight": "bold", "fontSize": 23, "baseline": "middle"},
   "encoding": {"text": {"field": "t"}}},
  {"width": 1, "height": 12, "data": {"values": [{}]}, "mark": {"type": "point", "opacity": 0}},
  {"width": 1404, "height": 290, "view": {"fill": "#efefef", "stroke": null},
   "data": {"name": "certs"},
   "layer": [
     {"mark": {"type": "rect", "fill": "#ffffff", "cornerRadius": 10},
      "encoding": {
        "x": {"field": "cert", "type": "nominal", "scale": {"domain": ["UL", "RoHS", "CE"], "paddingInner": 0.1236, "paddingOuter": 0.1148}, "axis": null},
        "y": {"field": "row", "type": "nominal", "scale": {"paddingInner": 0, "paddingOuter": 0.1223}, "axis": null}}},
     {"transform": [{"filter": "datum.cert == 'UL'"}],
      "mark": {"type": "point", "shape": "circle", "size": 7238, "filled": false, "stroke": "#231815", "strokeWidth": 8, "opacity": 1},
      "encoding": {"x": {"field": "cert", "type": "nominal"}}},
     {"transform": [{"filter": "datum.cert == 'UL'"}],
      "mark": {"type": "text", "text": "U", "font": "Liberation Sans", "fontWeight": "bold", "fontSize": 48, "baseline": "middle", "dx": -15, "dy": -10, "color": "#231815"},
      "encoding": {"x": {"field": "cert", "type": "nominal"}}},
     {"transform": [{"filter": "datum.cert == 'UL'"}],
      "mark": {"type": "text", "text": "L", "font": "Liberation Sans", "fontWeight": "bold", "fontSize": 56, "baseline": "middle", "dx": 13, "dy": 7, "color": "#231815"},
      "encoding": {"x": {"field": "cert", "type": "nominal"}}},
     {"transform": [{"filter": "datum.cert == 'UL'"}],
      "mark": {"type": "text", "text": "®", "font": "Liberation Sans", "fontSize": 15, "baseline": "middle", "dx": -15, "dy": 21, "color": "#231815"},
      "encoding": {"x": {"field": "cert", "type": "nominal"}}},
     {"transform": [{"filter": "datum.cert == 'RoHS'"}],
      "mark": {"type": "text", "text": "RoHS", "font": "Liberation Serif", "fontWeight": "bold", "fontSize": 118, "baseline": "middle", "color": "#111111"},
      "encoding": {"x": {"field": "cert", "type": "nominal"}}},
     {"transform": [{"filter": "datum.cert == 'CE'"}],
      "mark": {"type": "text", "text": "CЄ", "font": "DejaVu Sans Mono", "fontWeight": "bold", "fontSize": 136, "baseline": "middle", "dx": -6, "color": "#111111"},
      "encoding": {"x": {"field": "cert", "type": "nominal"}}}
   ]}
]
}
